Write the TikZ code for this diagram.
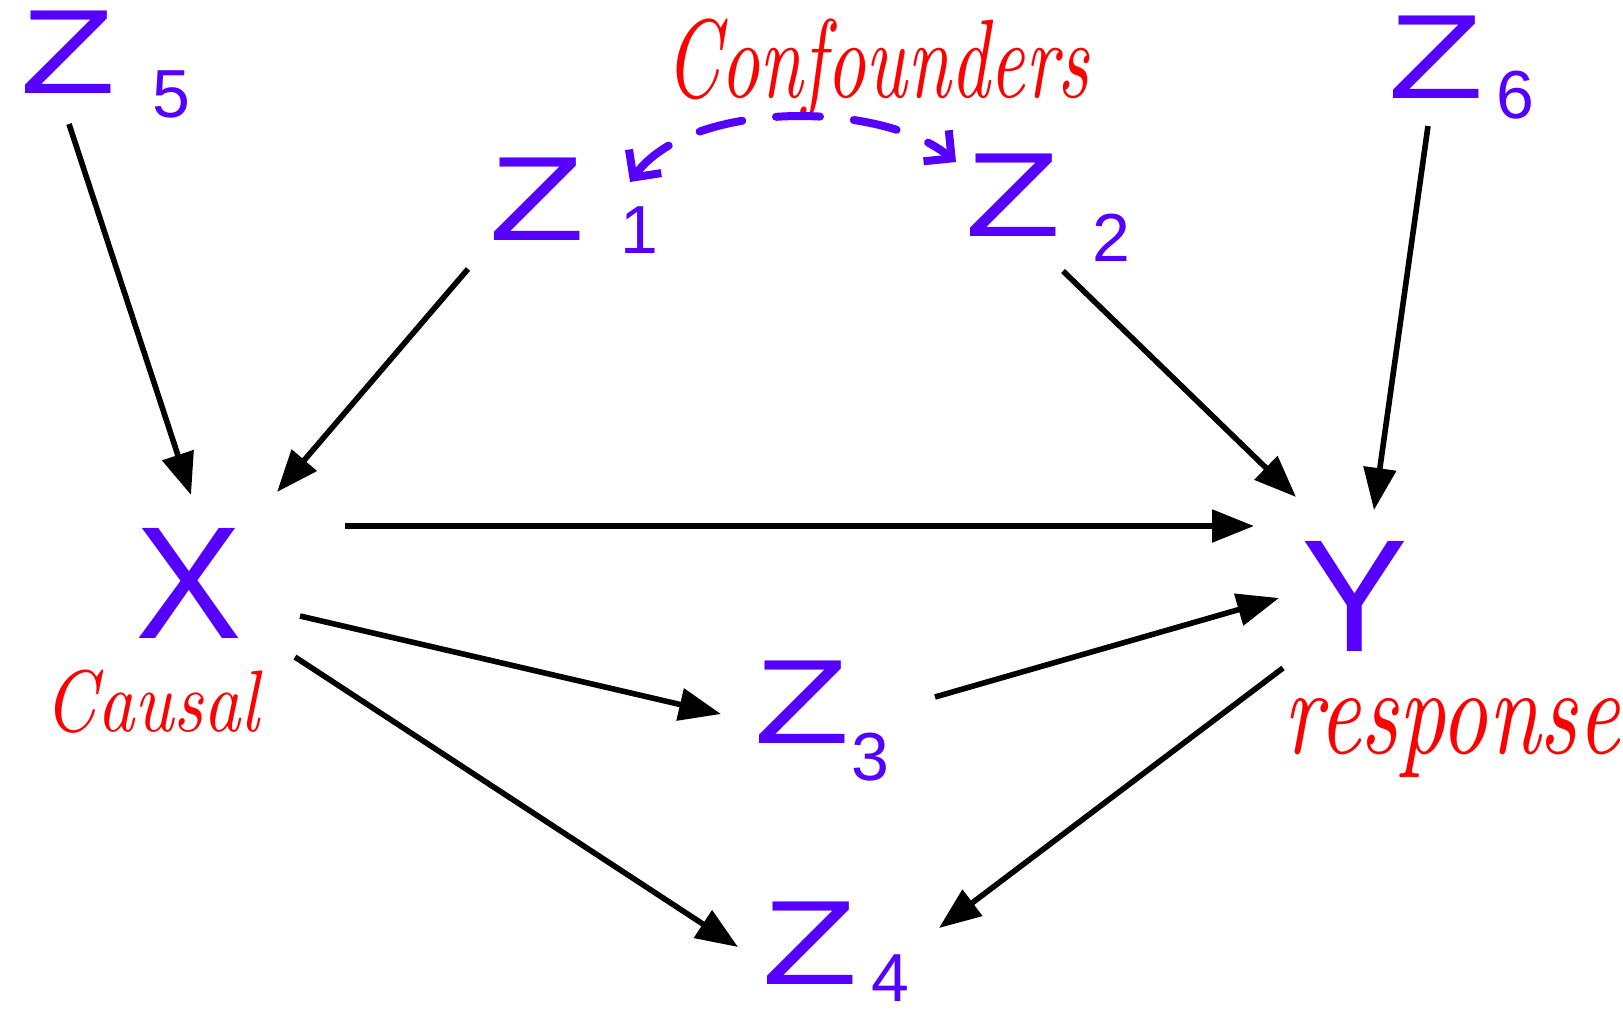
\documentclass[tikz,border=0pt]{standalone}
\usepackage{fontspec}
\newfontfamily\zfont{Liberation Sans}
\usetikzlibrary{arrows.meta}
\definecolor{zblue}{RGB}{85,0,255}
\newcommand\wideZ{\scalebox{1.3}[1]{Z}}
\begin{document}
\begin{tikzpicture}[x=0.5pt,y=-0.5pt,
  letter/.style={text=zblue, inner sep=0pt, font=\zfont\fontsize{60}{60}\selectfont},
  bigletter/.style={text=zblue, inner sep=0pt, font=\zfont\fontsize{80}{80}\selectfont},
  subs/.style={text=zblue, inner sep=0pt, font=\zfont\fontsize{34}{34}\selectfont},
  note/.style={text=red, inner sep=0pt},
  edge/.style={line width=2.8pt, -{Triangle[length=21pt,width=16pt]}},
  conf/.style={zblue, line width=4pt, line cap=round, dash pattern=on 22pt off 17pt,
    {Straight Barb[length=10pt,width=20pt,line width=4pt]}-{Straight Barb[length=10pt,width=20pt,line width=4pt]}}
]
\path[use as bounding box] (0,0) rectangle (1623,1019);

% variables
\node[letter] (z5) at (68,52) {\wideZ};
\node[subs] (z5s) at (171,94) {5};
\node[letter] (z6) at (1436,57) {\wideZ};
\node[subs] (z6s) at (1515,95) {6};
\node[letter] (z1) at (537,199) {\wideZ};
\node[subs] (z1s) at (639,230) {1};
\node[letter] (z2) at (1013,195) {\wideZ};
\node[subs] (z2s) at (1111,238) {2};
\node[bigletter] (x) at (189,583) {X};
\node[bigletter] (y) at (1355,596) {Y};
\node[letter] (z3) at (802,702) {\wideZ};
\node[subs] (z3s) at (870,757) {3};
\node[letter] (z4) at (810,943) {\wideZ};
\node[subs] (z4s) at (890,978) {4};

% notes
\node[note] (confounders) at (877,70) {\resizebox{212pt}{!}{\scalebox{1}[1.45]{\itshape Confounders}}};
\node[note] (causal) at (152,702) {\resizebox{107pt}{!}{\scalebox{1}[1.2]{\itshape Causal}}};
\node[note] (response) at (1452,738) {\resizebox{168pt}{!}{\scalebox{1}[1.35]{\itshape response}}};

% connector end points
\coordinate (z5o) at (69,124);   \coordinate (xi5) at (191,495);
\coordinate (z1o) at (468,269);  \coordinate (xi1) at (277,492);
\coordinate (z2o) at (1063,271); \coordinate (yi2) at (1296,497);
\coordinate (z6o) at (1428,126); \coordinate (yi6) at (1374,510);
\coordinate (xoy) at (345,526);  \coordinate (yix) at (1254,526);
\coordinate (xo3) at (300,616);  \coordinate (z3ix) at (721,714);
\coordinate (z3o) at (935,697);  \coordinate (yi3) at (1279,598);
\coordinate (xo4) at (295,657);  \coordinate (z4ix) at (738,947);
\coordinate (yo4) at (1283,668); \coordinate (z4iy) at (939,928);
\coordinate (c1) at (630,182);   \coordinate (c2) at (956,162);

\draw[edge] (z5o) -- (xi5);
\draw[edge] (z1o) -- (xi1);
\draw[edge] (z2o) -- (yi2);
\draw[edge] (z6o) -- (yi6);
\draw[edge] (xoy) -- (yix);
\draw[edge] (xo3) -- (z3ix);
\draw[edge] (z3o) -- (yi3);
\draw[edge] (xo4) -- (z4ix);
\draw[edge] (yo4) -- (z4iy);

\draw[conf] (c1) .. controls (690,100) and (880,100) .. (c2);
\end{tikzpicture}
\end{document}
